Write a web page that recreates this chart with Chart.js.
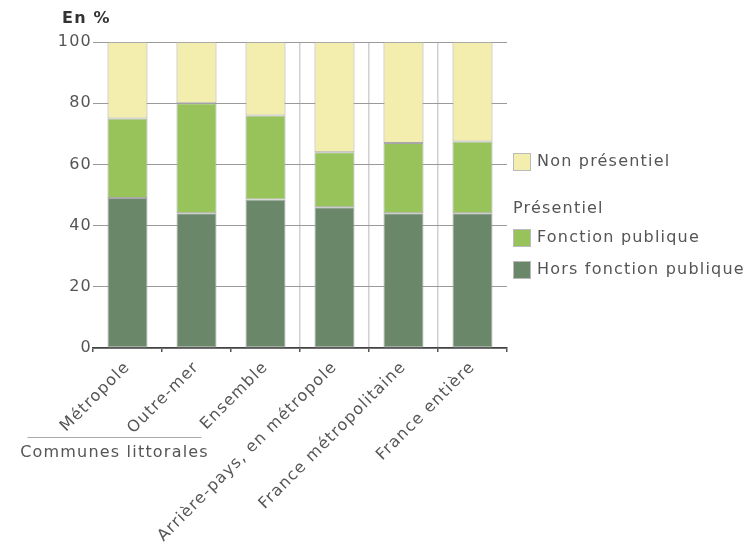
<!DOCTYPE html>
<html>
<head>
<meta charset="utf-8">
<script src="https://cdn.jsdelivr.net/npm/chart.js@4"></script>
<style>
  html, body { margin: 0; padding: 0; background: #fff; }
  #wrap { position: relative; width: 747px; height: 544px; }
</style>
</head>
<body>
<div id="wrap"><canvas id="chart"></canvas></div>
<script>
const categories = ["Métropole", "Outre-mer", "Ensemble", "Arrière-pays, en métropole", "France métropolitaine", "France entière"];
const horsFonctionPublique = [49, 44, 48.5, 46, 44, 44];
const fonctionPublique = [26, 36, 27.5, 18, 23, 23.5];
const nonPresentiel = [25, 20, 24, 36, 33, 32.5];
const groupLabel = "Communes littorales";
const groupSize = 3;

const FONT = "'DejaVu Sans', Verdana, sans-serif";
const SPACING = "1.2px";
const colors = { hors: "#6a876a", fonction: "#97c35a", non: "#f3eeae" };

// le texte de la source est plus espacé que DejaVu
const spacing = {
  id: "spacing",
  beforeUpdate(chart) { chart.ctx.letterSpacing = SPACING; },
  beforeDraw(chart) { chart.ctx.letterSpacing = SPACING; }
};

// titre, légende et libellé de groupe
const extras = {
  id: "extras",
  afterDraw(chart) {
    const ctx = chart.ctx;
    const area = chart.chartArea;
    const x = chart.scales.x;
    ctx.save();
    ctx.letterSpacing = SPACING;

    ctx.fillStyle = "#333";
    ctx.font = "bold 16px " + FONT;
    ctx.textBaseline = "middle";
    ctx.textAlign = "left";
    ctx.fillText("En %", 62, 19);

    // légende
    const lx = area.right + 6;
    const sw = 18;
    const items = [
      { y: 162, label: "Non présentiel", color: colors.non },
      { y: 238, label: "Fonction publique", color: colors.fonction },
      { y: 270, label: "Hors fonction publique", color: colors.hors }
    ];
    ctx.font = "16px " + FONT;
    ctx.fillStyle = "#555";
    ctx.fillText("Présentiel", lx, 209);
    items.forEach(it => {
      ctx.fillStyle = it.color;
      ctx.fillRect(lx, it.y - sw / 2, sw, sw);
      ctx.strokeStyle = "#bbb";
      ctx.lineWidth = 1;
      ctx.strokeRect(lx + 0.5, it.y - sw / 2 + 0.5, sw - 1, sw - 1);
      ctx.fillStyle = "#555";
      ctx.fillText(it.label, lx + sw + 6, it.y);
    });

    // libellé de groupe sous les trois premières catégories
    const gx0 = x.getPixelForValue(0) - 100;
    const gx1 = x.getPixelForValue(groupSize - 1) - 64;
    ctx.strokeStyle = "#aaa";
    ctx.beginPath();
    ctx.moveTo(gx0, 437.5);
    ctx.lineTo(gx1, 437.5);
    ctx.stroke();
    ctx.fillStyle = "#555";
    ctx.textAlign = "center";
    ctx.fillText(groupLabel, (gx0 + gx1) / 2, 453);
    ctx.restore();
  }
};

const common = { borderColor: "#a8a8a8", borderWidth: 1, borderSkipped: false, barPercentage: 0.58, categoryPercentage: 1 };

new Chart(document.getElementById("chart"), {
  type: "bar",
  data: {
    labels: categories,
    datasets: [
      { label: "Hors fonction publique", data: horsFonctionPublique, backgroundColor: colors.hors, ...common },
      { label: "Fonction publique", data: fonctionPublique, backgroundColor: colors.fonction, ...common },
      { label: "Non présentiel", data: nonPresentiel, backgroundColor: colors.non, ...common }
    ]
  },
  options: {
    responsive: true,
    maintainAspectRatio: false,
    animation: false,
    layout: { padding: { left: 0, right: 240, top: 42, bottom: 0 } },
    plugins: {
      legend: { display: false },
      tooltip: { enabled: false }
    },
    scales: {
      x: {
        stacked: true,
        offset: true,
        grid: {
          offset: true,
          color: ctx => (ctx.index >= groupSize && ctx.index < categories.length) ? "#d0d0d0" : "rgba(0,0,0,0)",
          lineWidth: 1.5,
          tickColor: "#555",
          tickLength: 4
        },
        border: { display: true, color: "#444", width: 1.5 },
        ticks: {
          color: "#555",
          font: { family: FONT, size: 16 },
          minRotation: 45,
          maxRotation: 45,
          padding: 6
        },
        afterFit: s => { s.height = 544 - 348; }
      },
      y: {
        stacked: true,
        min: 0,
        max: 100,
        grid: { color: "#9a9a9a", lineWidth: 1, drawTicks: false },
        border: { display: false },
        ticks: {
          stepSize: 20,
          color: "#555",
          font: { family: FONT, size: 16 },
          padding: 1
        },
        afterFit: s => { s.width = 93; }
      }
    }
  },
  plugins: [spacing, extras]
});
</script>
</body>
</html>
